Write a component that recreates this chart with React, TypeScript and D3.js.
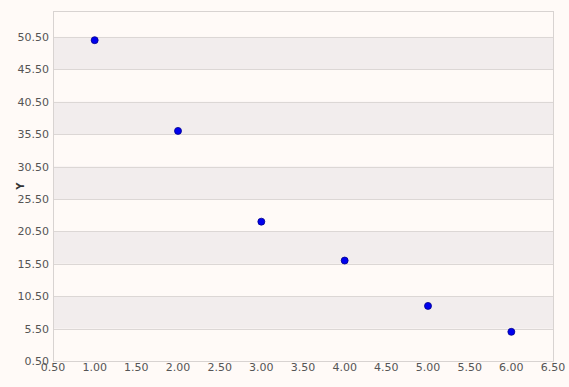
import React from "react";
import * as d3 from "d3";

const xValues = [1, 2, 3, 4, 5, 6];
const yValues = [50, 36, 22, 16, 9, 5];
const yTicks = [0.5, 5.5, 10.5, 15.5, 20.5, 25.5, 30.5, 35.5, 40.5, 45.5, 50.5];
const xTicks = [0.5, 1, 1.5, 2, 2.5, 3, 3.5, 4, 4.5, 5, 5.5, 6, 6.5];

const W = 569, H = 387;
const L = 53, R = 553, T = 11, B = 361;

export default function App() {
  const x = d3.scaleLinear().domain([0.5, 6.5]).range([L, R]);
  const y = d3.scaleLinear().domain([0.5, 54.5]).range([B, T]);
  const font = "'DejaVu Sans', sans-serif";
  const bands = yTicks.slice(0, -1).map((v, i) => ({ lo: v, hi: yTicks[i + 1], grey: i % 2 === 1 }));
  return (
    <svg width={W} height={H} style={{ position: "fixed", left: 0, top: 0, background: "#fffaf7" }}>
      <rect x={0} y={0} width={W} height={H} fill="#fffaf7" />
      {bands.filter(b => b.grey).map((b, i) => (
        <rect key={i} x={L} y={y(b.hi)} width={R - L} height={y(b.lo) - y(b.hi)} fill="#f2eded" />
      ))}
      {yTicks.map((t, i) => (
        <line key={i} x1={L} x2={R} y1={Math.round(y(t)) + 0.5} y2={Math.round(y(t)) + 0.5} stroke="#dcd7d5" strokeWidth={1} />
      ))}
      <rect x={L + 0.5} y={T + 0.5} width={R - L} height={B - T} fill="none" stroke="#d8d3d1" strokeWidth={1} />
      {yTicks.map((t, i) => (
        <text key={i} x={L - 4} y={y(t) + 4} textAnchor="end" fontFamily={font} fontSize={11} fill="#555">
          {t.toFixed(2)}
        </text>
      ))}
      {xTicks.map((t, i) => (
        <text key={i} x={x(t)} y={B + 10} textAnchor="middle" fontFamily={font} fontSize={11} fill="#555">
          {t.toFixed(2)}
        </text>
      ))}
      <text transform={`translate(24,${(T + B) / 2}) rotate(-90)`} textAnchor="middle" fontFamily={font} fontSize={10} fontWeight="bold" fill="#333">
        Y
      </text>
      {xValues.map((xv, i) => (
        <circle key={i} cx={x(xv)} cy={y(yValues[i])} r={3.5} fill="#0000ee" stroke="#00008b" strokeWidth={0.8} />
      ))}
    </svg>
  );
}
